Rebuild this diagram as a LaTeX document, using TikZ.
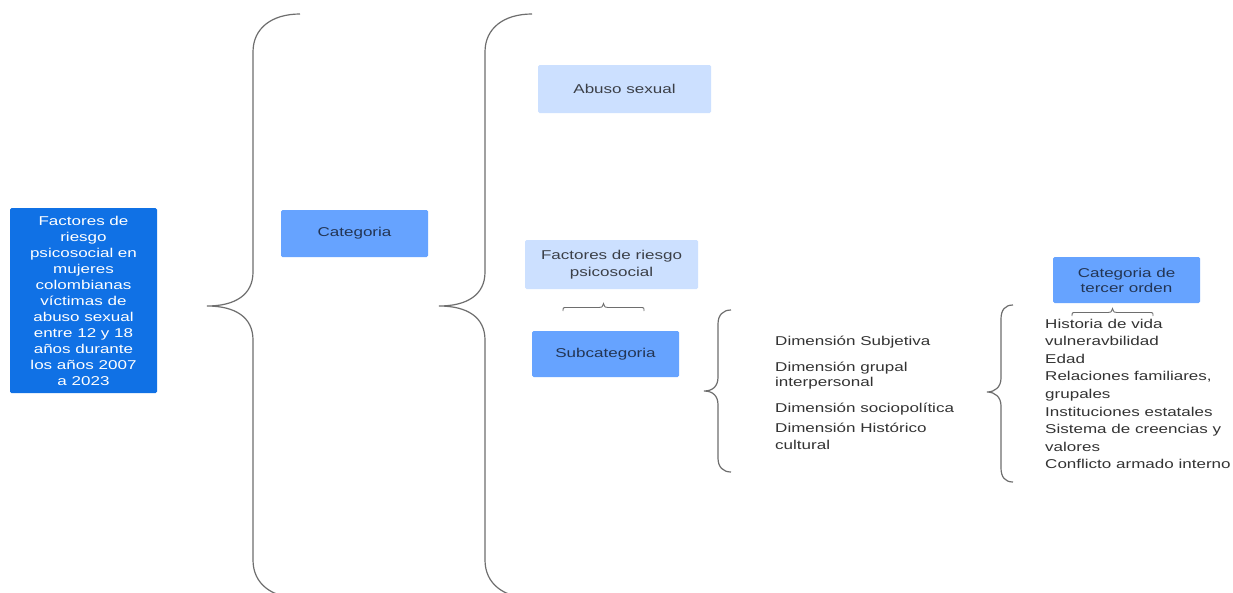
\documentclass[tikz,border=0pt]{standalone}
\usepackage{fontspec}
\setmainfont[FakeStretch=1.33]{Liberation Sans}
\definecolor{dblue}{HTML}{1071E5}
\definecolor{mblue}{HTML}{66A3FF}
\definecolor{lblue}{HTML}{CCE0FF}
\definecolor{navytxt}{HTML}{233554}
\definecolor{graytxt}{HTML}{3B3F47}
\definecolor{coltxt}{HTML}{333333}
\definecolor{bracecol}{HTML}{6E6E6E}
\begin{document}
\begin{tikzpicture}[x=1pt,y=-1pt,
  box/.style={rounded corners=1.5pt, inner sep=0pt, align=center},
  dark/.style={box, fill=dblue, text=white, font=\fontsize{12.8}{16}\selectfont},
  mid/.style={box, fill=mblue, text=navytxt, font=\fontsize{12.8}{15}\selectfont},
  light/.style={box, fill=lblue, text=graytxt, font=\fontsize{12.8}{17}\selectfont},
  coltext/.style={anchor=base west, inner sep=0pt, text=coltxt, font=\fontsize{12.8}{15}\selectfont},
  bracepath/.style={draw=bracecol, line width=1.2pt},
  smallbrace/.style={draw=bracecol, line width=0.9pt}]
\useasboundingbox (0,0) rectangle (1233,592);
\fill[white] (0,0) rectangle (1233,592);

% boxes
\node[dark, minimum width=147pt, minimum height=185pt] (main) at (83.5,300.5)
  {Factores de\\riesgo\\psicosocial en\\mujeres\\colombianas\\víctimas de\\abuso sexual\\entre 12 y 18\\años durante\\los años 2007\\a 2023};
\node[mid, minimum width=147pt, minimum height=47pt] (cat) at (354.5,233.5) {Categoria};
\node[light, minimum width=173pt, minimum height=48pt] (abuso) at (624.5,89) {Abuso sexual};
\node[light, minimum width=173pt, minimum height=49pt] (factores) at (611.5,264.5) {Factores de riesgo\\psicosocial};
\node[mid, minimum width=147pt, minimum height=46pt] (subcat) at (605.5,354) {Subcategoria};
\node[mid, minimum width=147pt, minimum height=46pt] (tercer) at (1126.5,280) {Categoria de\\tercer orden};

% middle column
\node[coltext] (d1) at (775,345) {Dimensión Subjetiva};
\node[coltext] (d2a) at (775,371) {Dimensión grupal};
\node[coltext] (d2b) at (775,386) {interpersonal};
\node[coltext] (d3) at (775,412) {Dimensión sociopolítica};
\node[coltext] (d4a) at (775,432.5) {Dimensión Histórico};
\node[coltext] (d4b) at (775,449.5) {cultural};

% right column
\node[coltext] (r1) at (1045,328) {Historia de vida};
\node[coltext] (r2) at (1045,345.6) {vulneravbilidad};
\node[coltext] (r3) at (1045,363.2) {Edad};
\node[coltext] (r4) at (1045,380.8) {Relaciones familiares,};
\node[coltext] (r5) at (1045,398.4) {grupales};
\node[coltext] (r6) at (1045,416) {Instituciones estatales};
\node[coltext] (r7) at (1045,433.6) {Sistema de creencias y};
\node[coltext] (r8) at (1045,451.2) {valores};
\node[coltext] (r9) at (1045,468.8) {Conflicto armado interno};

% large braces
\draw[bracepath] (300,14) .. controls (272,14) and (253,28) .. (253,52) -- (253,272)
  .. controls (253,295) and (235,306) .. (207,306)
  .. controls (235,306) and (253,317) .. (253,340) -- (253,560)
  .. controls (253,584) and (272,598) .. (300,598);
\draw[bracepath] (532,14) .. controls (504,14) and (485,28) .. (485,52) -- (485,272)
  .. controls (485,295) and (467,306) .. (439,306)
  .. controls (467,306) and (485,317) .. (485,340) -- (485,560)
  .. controls (485,584) and (504,598) .. (532,598);
% medium braces
\draw[bracepath] (731,310) .. controls (723,310) and (718,315) .. (718,324) -- (718,377)
  .. controls (718,386) and (713,391) .. (704,391)
  .. controls (713,391) and (718,396) .. (718,405) -- (718,458)
  .. controls (718,467) and (723,472) .. (731,472);
\draw[bracepath] (1013,305) .. controls (1005,305) and (1001,310) .. (1001,319) -- (1001,378)
  .. controls (1001,387) and (995,392) .. (987,392)
  .. controls (995,392) and (1001,397) .. (1001,406) -- (1001,468)
  .. controls (1001,477) and (1005,482) .. (1013,482);
% small braces
\draw[smallbrace] (563,311) .. controls (563,307.5) .. (567,307.5) -- (599,307.5)
  .. controls (602,307.5) .. (603.5,303.5) .. controls (605,307.5) .. (608,307.5) -- (640,307.5)
  .. controls (644,307.5) .. (644,311);
\draw[smallbrace] (1072,316) .. controls (1072,312.5) .. (1076,312.5) -- (1108,312.5)
  .. controls (1111,312.5) .. (1112.5,308.5) .. controls (1114,312.5) .. (1117,312.5) -- (1149,312.5)
  .. controls (1153,312.5) .. (1153,316);
\end{tikzpicture}
\end{document}
